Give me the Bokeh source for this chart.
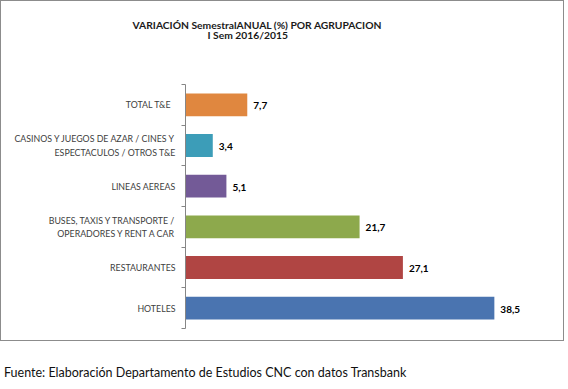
from bokeh.plotting import figure
from bokeh.models import Range1d, FixedTicker, Title, Div, ColumnDataSource
from bokeh.layouts import column
from bokeh.core.properties import value
from bokeh.embed import file_html
from bokeh.resources import INLINE

# data, top to bottom as in the chart
categories = [
    "TOTAL   T&E",
    "CASINOS Y JUEGOS DE AZAR / CINES Y\nESPECTACULOS / OTROS T&E",
    "LINEAS AEREAS",
    "BUSES, TAXIS Y TRANSPORTE /\nOPERADORES Y RENT A CAR",
    "RESTAURANTES",
    "HOTELES",
]
values = [7.7, 3.4, 5.1, 21.7, 27.1, 38.5]
colors = ["#E0873F", "#3C9DB8", "#735A97", "#8DA94C", "#B04543", "#4A74B0"]
title_line1 = "VARIACIÓN SemestralANUAL (%) POR AGRUPACION"
title_line2 = "I Sem 2016/2015"
footer = "Fuente: Elaboración Departamento de Estudios CNC con datos Transbank"

n = len(categories)
ypos = [n - 1 - i for i in range(n)]
labels = [f"{v:.1f}".replace(".", ",") for v in values]

src = ColumnDataSource(dict(y=ypos, v=values, c=colors, lab=labels))

FONT = "Lato"

p = figure(
    width=564, height=341,
    x_range=Range1d(0, 45), y_range=Range1d(-0.5, n - 0.5),
    output_backend="svg", toolbar_location=None,
    min_border_left=184, min_border_right=19, min_border_top=0, min_border_bottom=14,
    background_fill_color="white", border_fill_color="white",
)
p.styles = {"border": "1px solid #8c8c8c"}
p.outline_line_color = None
p.grid.visible = False
p.xaxis.visible = False

p.hbar(y="y", right="v", left=0, height=0.56, fill_color="c", line_color=None, source=src)
p.text(x="v", y="y", text="lab", x_offset=6, y_offset=1, text_baseline="middle", text_align="left",
       text_font=value(FONT), text_font_style="bold", text_font_size="10px",
       text_color="black", source=src)

ax = p.yaxis[0]
ax.ticker = FixedTicker(ticks=ypos, minor_ticks=[k - 0.5 for k in range(n + 1)])
ax.major_label_overrides = {y: c for y, c in zip(ypos, categories)}
ax.major_tick_in = 0
ax.major_tick_out = 0
ax.minor_tick_in = 0
ax.minor_tick_out = 4
ax.axis_line_color = "#868686"
ax.minor_tick_line_color = "#868686"
ax.major_label_standoff = 6
ax.major_label_text_font = FONT
ax.major_label_text_font_size = "8.8px"
ax.major_label_text_color = "#404040"

tstyle = dict(text_font=FONT, text_font_style="bold", text_font_size="10.3px", text_color="#1a1a1a")
spacer_bottom = Title(text=" ", text_font_size="1px", standoff=42.5)
t2 = Title(text=title_line2, align="left", offset=22, standoff=-4, **tstyle)
t1 = Title(text=title_line1, align="left", offset=-53, standoff=-4, **tstyle)
spacer_top = Title(text=" ", text_font_size="1px", standoff=13.5)
for t in (spacer_bottom, t2, t1, spacer_top):
    p.add_layout(t, "above")

d = Div(text=f'<div style="margin-top:18px;margin-left:-1px;font-family:Lato;font-size:12.5px;color:#111">{footer}</div>',
        width=566, height=44)

layout = column(p, d, spacing=0)
open("out.html", "w").write(file_html(layout, INLINE))
